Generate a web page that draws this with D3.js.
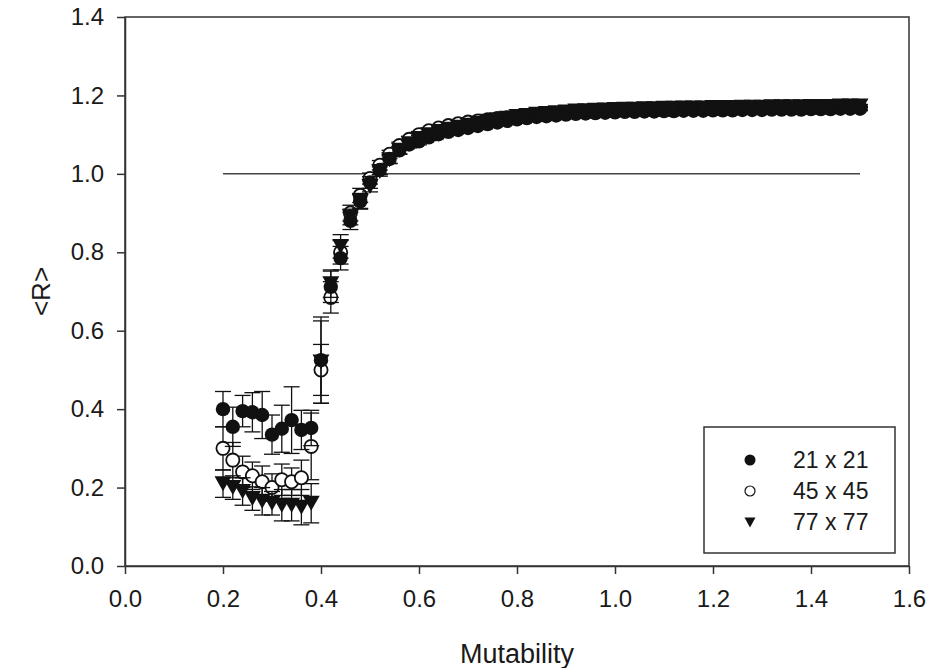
<!DOCTYPE html>
<html>
<head>
<meta charset="utf-8">
<script src="https://cdn.jsdelivr.net/npm/d3@7"></script>
<style>
  body { margin: 0; background: #fff; }
  svg { display: block; }
  text { font-family: "Liberation Sans", Arial, sans-serif; fill: #1a1a1a; }
</style>
</head>
<body>
<svg id="chart" width="940" height="668"></svg>
<script>
// Mutability values (x) shared by all three lattice sizes
const mutability = [
  0.20, 0.22, 0.24, 0.26, 0.28, 0.30, 0.32, 0.34, 0.36, 0.38,
  0.40, 0.42, 0.44, 0.46, 0.48, 0.50, 0.52, 0.54, 0.56, 0.58,
  0.60, 0.62, 0.64, 0.66, 0.68, 0.70, 0.72, 0.74, 0.76, 0.78,
  0.80, 0.82, 0.84, 0.86, 0.88, 0.90, 0.92, 0.94, 0.96, 0.98,
  1.00, 1.02, 1.04, 1.06, 1.08, 1.10, 1.12, 1.14, 1.16, 1.18,
  1.20, 1.22, 1.24, 1.26, 1.28, 1.30, 1.32, 1.34, 1.36, 1.38,
  1.40, 1.42, 1.44, 1.46, 1.48, 1.50
];

// <R> for the 21 x 21 lattice and its error
const r21 = [
  0.400, 0.355, 0.395, 0.392, 0.385, 0.335, 0.350, 0.372, 0.347, 0.352,
  0.525, 0.712, 0.785, 0.880, 0.930, 0.978, 1.010, 1.038, 1.060, 1.075,
  1.083, 1.093, 1.101, 1.107, 1.112, 1.117, 1.122, 1.127, 1.131, 1.135,
  1.139, 1.142, 1.145, 1.147, 1.149, 1.151, 1.153, 1.154, 1.155, 1.156,
  1.157, 1.158, 1.158, 1.159, 1.159, 1.160, 1.160, 1.161, 1.161, 1.161,
  1.162, 1.162, 1.162, 1.163, 1.163, 1.163, 1.164, 1.164, 1.164, 1.164,
  1.165, 1.165, 1.165, 1.166, 1.166, 1.166
];
const e21 = [
  0.045, 0.050, 0.040, 0.050, 0.060, 0.050, 0.060, 0.085, 0.050, 0.045,
  0.110, 0.040, 0.030, 0.022, 0.020, 0.015, 0.012, 0.011, 0.010, 0.009,
  0.009, 0.008, 0.008, 0.007, 0.007, 0.007, 0.006, 0.006, 0.006, 0.006,
  0.006, 0.005, 0.005, 0.005, 0.005, 0.005, 0.005, 0.005, 0.005, 0.005,
  0.005, 0.005, 0.005, 0.005, 0.005, 0.005, 0.005, 0.005, 0.005, 0.005,
  0.005, 0.005, 0.005, 0.005, 0.005, 0.005, 0.005, 0.005, 0.005, 0.005,
  0.005, 0.005, 0.005, 0.005, 0.005, 0.005
];

// <R> for the 45 x 45 lattice and its error
const r45 = [
  0.300, 0.270, 0.240, 0.230, 0.215, 0.200, 0.220, 0.215, 0.225, 0.305,
  0.500, 0.685, 0.800, 0.900, 0.945, 0.988, 1.022, 1.050, 1.072, 1.088,
  1.100, 1.110, 1.117, 1.123, 1.128, 1.132, 1.135, 1.138, 1.141, 1.143,
  1.144, 1.146, 1.148, 1.150, 1.152, 1.154, 1.156, 1.157, 1.158, 1.159,
  1.160, 1.161, 1.161, 1.162, 1.162, 1.163, 1.163, 1.164, 1.164, 1.164,
  1.165, 1.165, 1.165, 1.166, 1.166, 1.166, 1.167, 1.167, 1.167, 1.167,
  1.168, 1.168, 1.168, 1.169, 1.169, 1.169
];
const e45 = [
  0.055, 0.045, 0.040, 0.035, 0.040, 0.035, 0.040, 0.035, 0.045, 0.085,
  0.065, 0.040, 0.030, 0.020, 0.018, 0.014, 0.012, 0.010, 0.009, 0.008,
  0.008, 0.007, 0.007, 0.006, 0.006, 0.006, 0.005, 0.005, 0.005, 0.005,
  0.005, 0.005, 0.004, 0.004, 0.004, 0.004, 0.004, 0.004, 0.004, 0.004,
  0.004, 0.004, 0.004, 0.004, 0.004, 0.004, 0.004, 0.004, 0.004, 0.004,
  0.004, 0.004, 0.004, 0.004, 0.004, 0.004, 0.004, 0.004, 0.004, 0.004,
  0.004, 0.004, 0.004, 0.004, 0.004, 0.004
];

// <R> for the 77 x 77 lattice and its error
const r77 = [
  0.210, 0.200, 0.190, 0.172, 0.165, 0.160, 0.155, 0.155, 0.150, 0.160,
  0.520, 0.720, 0.815, 0.890, 0.930, 0.968, 1.006, 1.036, 1.060, 1.077,
  1.090, 1.100, 1.108, 1.114, 1.119, 1.124, 1.129, 1.134, 1.138, 1.142,
  1.146, 1.149, 1.152, 1.154, 1.156, 1.158, 1.160, 1.161, 1.162, 1.163,
  1.164, 1.165, 1.165, 1.166, 1.166, 1.167, 1.167, 1.168, 1.168, 1.168,
  1.169, 1.169, 1.169, 1.170, 1.170, 1.170, 1.171, 1.171, 1.171, 1.171,
  1.172, 1.172, 1.172, 1.173, 1.173, 1.173
];
const e77 = [
  0.035, 0.030, 0.035, 0.030, 0.035, 0.030, 0.040, 0.040, 0.045, 0.050,
  0.105, 0.035, 0.030, 0.020, 0.018, 0.014, 0.012, 0.010, 0.009, 0.008,
  0.008, 0.007, 0.007, 0.006, 0.006, 0.006, 0.005, 0.005, 0.005, 0.005,
  0.005, 0.005, 0.004, 0.004, 0.004, 0.004, 0.004, 0.004, 0.004, 0.004,
  0.004, 0.004, 0.004, 0.004, 0.004, 0.004, 0.004, 0.004, 0.004, 0.004,
  0.004, 0.004, 0.004, 0.004, 0.004, 0.004, 0.004, 0.004, 0.004, 0.004,
  0.004, 0.004, 0.004, 0.004, 0.004, 0.004
];

const seriesNames = ["21 x 21", "45 x 45", "77 x 77"];
const xTicks = [0.0, 0.2, 0.4, 0.6, 0.8, 1.0, 1.2, 1.4, 1.6];
const yTicks = [0.0, 0.2, 0.4, 0.6, 0.8, 1.0, 1.2, 1.4];
// Reference line at <R> = 1
const refLineX = [0.2, 1.5];
const refLineY = 1.0;

const svg = d3.select("#chart");
const plot = { left: 125, right: 909, top: 17, bottom: 566 };

const x = d3.scaleLinear().domain([0, 1.6]).range([plot.left, plot.right]);
const y = d3.scaleLinear().domain([0, 1.4]).range([plot.bottom, plot.top]);

const ink = "#111";
const axisInk = "#333";

// Frame (top and right edges close the box)
svg.append("rect")
  .attr("x", plot.left).attr("y", plot.top)
  .attr("width", plot.right - plot.left).attr("height", plot.bottom - plot.top)
  .attr("fill", "none").attr("stroke", axisInk).attr("stroke-width", 1.5);

// Axes
const fmt = d3.format(".1f");
const gx = svg.append("g")
  .attr("transform", `translate(0,${plot.bottom})`)
  .call(d3.axisBottom(x).tickValues(xTicks).tickFormat(fmt).tickSize(8).tickSizeOuter(0).tickPadding(16));
const gy = svg.append("g")
  .attr("transform", `translate(${plot.left},0)`)
  .call(d3.axisLeft(y).tickValues(yTicks).tickFormat(fmt).tickSize(8).tickSizeOuter(0).tickPadding(13));
[gx, gy].forEach(g => {
  g.select(".domain").attr("stroke", axisInk).attr("stroke-width", 1.5);
  g.selectAll(".tick line").attr("stroke", axisInk).attr("stroke-width", 1.5);
  g.selectAll(".tick text")
    .attr("font-size", 24)
    .attr("font-family", "'Liberation Sans', Arial, sans-serif")
    .attr("fill", "#1a1a1a");
});

// Axis titles
svg.append("text")
  .attr("x", (plot.left + plot.right) / 2).attr("y", 663)
  .attr("text-anchor", "middle").attr("font-size", 27)
  .text("Mutability");
svg.append("text")
  .attr("transform", `translate(50,${(plot.top + plot.bottom) / 2}) rotate(-90)`)
  .attr("text-anchor", "middle").attr("font-size", 26)
  .text("<R>");

// Reference line at <R> = 1
svg.append("line")
  .attr("x1", x(refLineX[0])).attr("x2", x(refLineX[1]))
  .attr("y1", y(refLineY)).attr("y2", y(refLineY))
  .attr("stroke", "#444").attr("stroke-width", 1.5);

// Marker painters
const markers = {
  filled: (g) => g.append("circle").attr("r", 7.2).attr("fill", ink),
  open: (g) => g.append("circle").attr("r", 6.6).attr("fill", "#fff").attr("stroke", ink).attr("stroke-width", 1.8),
  tri: (g) => g.append("path").attr("d", "M-8.5,-7.5L8.5,-7.5L0,7.5Z").attr("fill", ink)
};
const legendMarkers = {
  filled: (g) => g.append("circle").attr("r", 5.5).attr("fill", ink),
  open: (g) => g.append("circle").attr("r", 5).attr("fill", "#fff").attr("stroke", ink).attr("stroke-width", 1.2),
  tri: (g) => g.append("path").attr("d", "M-5.5,-4.5L5.5,-4.5L0,5.5Z").attr("fill", ink)
};

const series = [
  { name: seriesNames[0], values: r21, errors: e21, kind: "filled" },
  { name: seriesNames[1], values: r45, errors: e45, kind: "open" },
  { name: seriesNames[2], values: r77, errors: e77, kind: "tri" }
];
// Paint order: open circles beneath, then filled circles, triangles on top
const paintOrder = [1, 0, 2];

const capHalf = 8;
paintOrder.forEach(k => {
  const s = series[k];
  const pts = mutability.map((m, i) => ({ m, v: s.values[i], e: s.errors[i] }));
  const g = svg.append("g");
  // error bars
  const eb = g.selectAll("g.eb").data(pts).join("g").attr("class", "eb")
    .attr("stroke", ink).attr("stroke-width", 1.3);
  eb.append("line")
    .attr("x1", d => x(d.m)).attr("x2", d => x(d.m))
    .attr("y1", d => y(d.v - d.e)).attr("y2", d => y(d.v + d.e));
  eb.append("line")
    .attr("x1", d => x(d.m) - capHalf).attr("x2", d => x(d.m) + capHalf)
    .attr("y1", d => y(d.v + d.e)).attr("y2", d => y(d.v + d.e));
  eb.append("line")
    .attr("x1", d => x(d.m) - capHalf).attr("x2", d => x(d.m) + capHalf)
    .attr("y1", d => y(d.v - d.e)).attr("y2", d => y(d.v - d.e));
  // markers
  g.selectAll("g.pt").data(pts).join("g").attr("class", "pt")
    .attr("transform", d => `translate(${x(d.m)},${y(d.v)})`)
    .each(function () { markers[s.kind](d3.select(this)); });
});

// Legend
const legend = svg.append("g");
legend.append("rect")
  .attr("x", 704).attr("y", 427).attr("width", 191).attr("height", 126)
  .attr("fill", "#fff").attr("stroke", axisInk).attr("stroke-width", 1.5);
series.forEach((s, i) => {
  const row = legend.append("g").attr("transform", `translate(0,${460 + i * 31})`);
  const mk = row.append("g").attr("transform", "translate(750,0)");
  legendMarkers[s.kind](mk);
  row.append("text").attr("x", 793).attr("y", 0).attr("dy", "0.35em")
    .attr("font-size", 23).text(s.name);
});
</script>
</body>
</html>
